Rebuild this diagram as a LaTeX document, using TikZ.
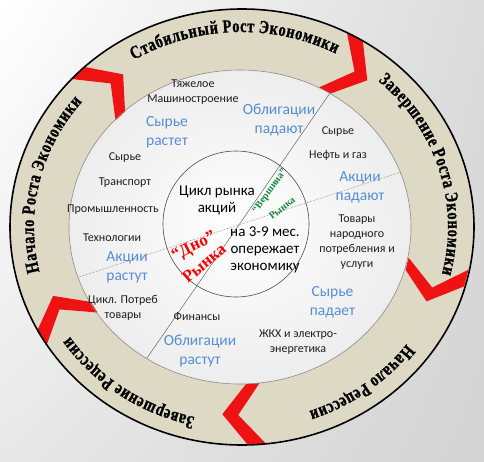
\documentclass[tikz,border=0pt]{standalone}
\usepackage{fontspec}
\setmainfont{Liberation Serif}
\setsansfont{Carlito}
\newfontfamily\ringfamily[FakeStretch=0.78, FakeBold=1]{Liberation Serif}
\usetikzlibrary{decorations.text,shadings}
\definecolor{ringtan}{RGB}{221,217,196}
\definecolor{chevred}{RGB}{238,18,18}
\definecolor{bluetxt}{RGB}{85,142,213}
\definecolor{darktxt}{RGB}{30,30,30}
\definecolor{peakgreen}{RGB}{22,135,60}
\newcommand{\ringfont}{\ringfamily\bfseries\fontsize{18.5}{18.5}\selectfont}
\tikzset{
  sector/.style={font=\sffamily\fontsize{12}{15}\selectfont, text=darktxt, align=center, inner sep=0pt},
  trend/.style={font=\sffamily\fontsize{15.5}{19}\selectfont, text=bluetxt, align=center, inner sep=0pt},
  hub/.style={font=\sffamily\fontsize{15}{17}\selectfont, text=black, align=center, inner sep=0pt},
  peak/.style={font=\rmfamily\bfseries\fontsize{10}{10}\selectfont, text=peakgreen, inner sep=0pt},
  trough/.style={font=\rmfamily\bfseries\fontsize{17}{17}\selectfont, text=red, inner sep=0pt},
  chevron/.style={fill=chevred},
  divider/.style={draw=black!60, line width=0.5pt},
  ringlabel/.style={decorate, decoration={text along path, text align=center, raise=15pt, text={|\ringfont|#1}}},
}
\begin{document}
\begin{tikzpicture}[x=1pt,y=1pt]
  % Background
  \shade[upper left=white, upper right=black!14, lower left=black!9, lower right=black!17] (-241,-234) rectangle (243,227);%
  \useasboundingbox (-241,-234) rectangle (243,227);

  % Drawing outer ring and inner disc
  \fill[ringtan] (1,0) ellipse [x radius=232, y radius=218];%
  \shade[inner color=white, outer color=black!7] (-1,0) ellipse [x radius=171, y radius=157];%

  % Drawing chevrons between the phases
  \fill[chevron] (132.7:232 and 218) -- (125.7:202 and 188) -- (132.7:171 and 157) -- (137.2:171 and 157) -- (130.2:202 and 188) -- (137.2:232 and 218) -- cycle;%
  \fill[chevron] (58.3:232 and 218) -- (51.3:202 and 188) -- (58.3:171 and 157) -- (62.8:171 and 157) -- (55.8:202 and 188) -- (62.8:232 and 218) -- cycle;%
  \fill[chevron] (-15.8:232 and 218) -- (-23.3:202 and 188) -- (-15.8:171 and 157) -- (-11.3:171 and 157) -- (-18.8:202 and 188) -- (-11.3:232 and 218) -- cycle;%
  \fill[chevron] (-88.3:232 and 218) -- (-95.3:202 and 188) -- (-88.3:171 and 157) -- (-83.8:171 and 157) -- (-90.8:202 and 188) -- (-83.8:232 and 218) -- cycle;%
  \fill[chevron] (-151.5:232 and 218) -- (-158.5:202 and 188) -- (-151.5:171 and 157) -- (-147:171 and 157) -- (-154:202 and 188) -- (-147:232 and 218) -- cycle;%

  % Drawing borders
  \draw[line width=1.6pt] (1,0) ellipse [x radius=232, y radius=218];%
  \draw[black!45, line width=0.6pt] (-1,0) ellipse [x radius=171, y radius=157];%

  % Drawing dividing lines
  \coordinate (l1a) at (89,134);
  \coordinate (l1b) at (-94,-131);
  \coordinate (l2a) at (-162,-50);
  \coordinate (l2b) at (160,55);
  \draw[divider] (l1a) -- (l1b);%
  \draw[divider, densely dotted] (l2a) -- (l2b);%

  % Drawing hub circle
  \draw[black!70, line width=0.6pt] (-5,3) circle [radius=73];%

  % Phase names on the ring
  \path[ringlabel={Стабильный Рост Экономики}] (136:192 and 180) arc[start angle=136, end angle=48, x radius=192, y radius=180];%
  \path[ringlabel={Завершение Роста Экономики}] (61:192 and 180) arc[start angle=61, end angle=-27, x radius=192, y radius=180];%
  \path[ringlabel={Начало Рецессии}] (-9:192 and 180) arc[start angle=-9, end angle=-97, x radius=192, y radius=180];%
  \path[ringlabel={Завершение Рецессии}] (-81:192 and 180) arc[start angle=-81, end angle=-169, x radius=192, y radius=180];%
  \path[ringlabel={Начало Роста Экономики}] (211:192 and 180) arc[start angle=211, end angle=123, x radius=192, y radius=180];%

  % Sectors and trends
  \node[sector] (heavy) at (-48,134.5) {Тяжелое\\Машиностроение};%
  \node[trend] (rawup) at (-74,94.5) {Сырье\\растет};%
  \node[trend] (bondsdown) at (38,107) {Облигации\\падают};%
  \node[sector] (rawright) at (97,95) {Сырье};%
  \node[sector] (oilgas) at (97,72) {Нефть и газ};%
  \node[trend] (stocksdown) at (119,40) {Акции\\падают};%
  \node[sector] (consumer) at (116,-15.5) {Товары\\народного\\потребления и\\услуги};%
  \node[trend] (rawdown) at (91.5,-75.5) {Сырье\\падает};%
  \node[sector] (utilities) at (57,-115.5) {ЖКХ и электро-\\энергетика};%
  \node[trend] (bondsup) at (-41,-124) {Облигации\\растут};%
  \node[sector] (finance) at (-44,-90) {Финансы};%
  \node[sector] (cyclical) at (-118,-80.5) {Цикл. Потреб\\товары};%
  \node[trend] (stocksup) at (-114,-40.5) {Акции\\растут};%
  \node[sector] (tech) at (-129,-11) {Технологии};%
  \node[sector] (industry) at (-128,17) {Промышленность};%
  \node[sector] (transport) at (-116,44) {Транспорт};%
  \node[sector] (rawleft) at (-116,69) {Сырье};%

  % Hub texts
  \node[hub] (cycle) at (-24,26.5) {Цикл рынка\\акций};%
  \node[hub] (lead) at (24,-23) {на 3-9 мес.\\опережает\\экономику};%
  \node[peak, rotate=54] (peaktop) at (29,36) {“Вершина”};%
  \node[peak, rotate=38] (peakmkt) at (41,19) {Рынка};%
  \node[trough, rotate=26] (troughtop) at (-47,-20) {“Дно”};%
  \node[trough, rotate=40] (troughmkt) at (-37,-36) {Рынка};%
\end{tikzpicture}
\end{document}
